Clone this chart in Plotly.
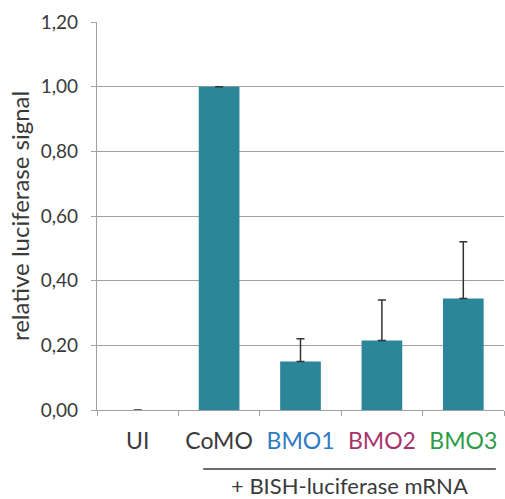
import plotly.graph_objects as go

categories = ["UI", "CoMO", "BMO1", "BMO2", "BMO3"]
label_colors = ["#3A3A3A", "#3A3A3A", "#2E7BC4", "#A8336E", "#2E9B48"]
values = [0.0, 1.00, 0.15, 0.215, 0.345]
errors = [0.0, 0.0, 0.07, 0.125, 0.175]
bracket_text = "+ BISH-luciferase mRNA"
y_title = "relative luciferase signal"

ticktext = [f"<span style='color:{c}'>{t}</span>" for t, c in zip(categories, label_colors)]

fig = go.Figure()
fig.add_trace(go.Bar(
    x=categories, y=values,
    marker=dict(color="#2C869A", line=dict(width=0)),
    width=0.5,
    error_y=dict(type="data", array=errors, symmetric=False, arrayminus=[0]*5,
                 color="#333333", thickness=1.5, width=4, visible=True),
))

fig.update_layout(
    width=505, height=499,
    margin=dict(l=97, r=1, t=22, b=89),
    plot_bgcolor="white", paper_bgcolor="white",
    separators=",.",
    showlegend=False,
    font=dict(family="Lato", color="#3A3A3A"),
    xaxis=dict(
        type="category", range=[-0.5, 4.5],
        tickmode="array", tickvals=categories, ticktext=ticktext,
        tickson="boundaries", ticks="outside", ticklen=5, tickcolor="#A0A0A0",
        tickwidth=1.3,
        showline=True, linecolor="#A0A0A0", linewidth=1.3,
        showgrid=False, tickfont=dict(size=23, color="#3A3A3A"),
        ticklabelstandoff=10,
    ),
    yaxis=dict(
        range=[0, 1.2], tickvals=[0, 0.2, 0.4, 0.6, 0.8, 1.0, 1.2],
        tickformat=".2f", ticks="outside", ticklen=5, tickcolor="#A0A0A0",
        tickwidth=1.3,
        showline=True, linecolor="#A0A0A0", linewidth=1.3,
        showgrid=True, gridcolor="#A0A0A0", gridwidth=1.3,
        zeroline=False,
        tickfont=dict(size=19, color="#3A3A3A"),
        ticklabelstandoff=9,
        title=dict(text=y_title, font=dict(size=24, color="#3A3A3A"), standoff=4),
    ),
)

fig.add_shape(type="line", xref="x", yref="paper",
              x0=0.805, x1=4.4, y0=-0.152, y1=-0.152,
              line=dict(color="#3A3A3A", width=1.5))
fig.add_annotation(text=bracket_text, xref="x", yref="paper",
                   x=2.6, y=-0.195, showarrow=False, yanchor="middle",
                   font=dict(size=22, color="#3A3A3A"))

fig.write_html("out.html")
